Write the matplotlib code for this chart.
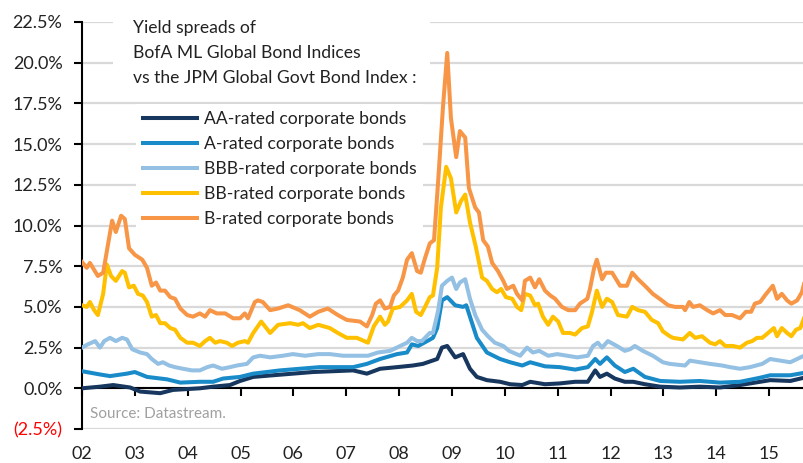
import matplotlib
matplotlib.use("Agg")
import matplotlib.pyplot as plt
from matplotlib.patches import Rectangle

plt.rcParams['font.family'] = ['Lato', 'DejaVu Sans']

# ---- data (decimal years, spread in %) ----
b_dates = [2002.00, 2002.09, 2002.15, 2002.30, 2002.40, 2002.57, 2002.64, 2002.74, 2002.81, 2002.89,
           2003.00, 2003.14, 2003.23, 2003.32, 2003.40, 2003.48, 2003.57, 2003.67, 2003.76, 2003.86,
           2003.99, 2004.10, 2004.23, 2004.33, 2004.42, 2004.55, 2004.71, 2004.86, 2004.99, 2005.08,
           2005.14, 2005.27, 2005.33, 2005.42, 2005.56, 2005.71, 2005.90, 2006.12, 2006.31, 2006.47,
           2006.65, 2006.84, 2007.01, 2007.26, 2007.39, 2007.49, 2007.56, 2007.64, 2007.73, 2007.83,
           2007.90, 2007.98, 2008.07, 2008.15, 2008.24, 2008.34, 2008.41, 2008.49, 2008.58, 2008.66,
           2008.74, 2008.83, 2008.91, 2008.98, 2009.08, 2009.15, 2009.25, 2009.32, 2009.44, 2009.51,
           2009.59, 2009.68, 2009.76, 2009.87, 2009.97, 2010.04, 2010.16, 2010.23, 2010.33, 2010.38,
           2010.48, 2010.57, 2010.65, 2010.76, 2010.86, 2010.95, 2011.08, 2011.20, 2011.33, 2011.42,
           2011.56, 2011.61, 2011.69, 2011.74, 2011.84, 2011.91, 2012.03, 2012.18, 2012.31, 2012.41,
           2012.52, 2012.65, 2012.80, 2012.97, 2013.09, 2013.22, 2013.37, 2013.41, 2013.49, 2013.56,
           2013.69, 2013.83, 2013.94, 2014.07, 2014.17, 2014.30, 2014.45, 2014.56, 2014.66, 2014.73,
           2014.83, 2014.92, 2015.02, 2015.07, 2015.15, 2015.24, 2015.34, 2015.42, 2015.53, 2015.62,
           2015.66]
b_vals = [7.75, 7.4, 7.7, 6.9, 7.1, 10.3, 9.6, 10.6, 10.4, 8.6,
          8.2, 7.9, 7.4, 6.3, 6.5, 6.0, 6.0, 5.6, 5.5, 4.9,
          4.5, 4.4, 4.6, 4.4, 4.8, 4.6, 4.6, 4.3, 4.3, 4.6,
          4.3, 5.3, 5.4, 5.3, 4.8, 4.9, 5.1, 4.8, 4.4, 4.7,
          4.9, 4.5, 4.2, 4.1, 3.8, 4.5, 5.2, 5.4, 4.9, 5.0,
          5.7, 6.0, 6.8, 7.9, 8.3, 7.2, 7.1, 8.0, 8.9, 9.1,
          12.8, 17.3, 20.6, 16.6, 14.2, 15.8, 15.4, 12.3, 11.1, 10.8,
          9.1, 8.7, 7.7, 7.2, 6.6, 6.1, 6.3, 5.8, 5.4, 6.6,
          6.8, 6.2, 6.7, 6.0, 5.7, 5.5, 5.0, 4.8, 4.8, 5.2,
          5.5, 6.1, 7.4, 7.9, 6.7, 7.1, 7.1, 6.3, 6.3, 7.1,
          6.7, 6.3, 5.8, 5.4, 5.1, 5.0, 5.0, 4.8, 5.3, 5.0,
          5.1, 4.8, 4.6, 4.8, 4.5, 4.5, 4.3, 4.7, 4.7, 5.2,
          5.3, 5.7, 6.1, 6.3, 5.5, 5.8, 5.4, 5.2, 5.4, 5.9,
          6.4]

bb_dates = [2002.00, 2002.09, 2002.15, 2002.23, 2002.30, 2002.40, 2002.47, 2002.55, 2002.64, 2002.76,
            2002.81, 2002.89, 2002.98, 2003.06, 2003.15, 2003.23, 2003.32, 2003.40, 2003.48, 2003.57,
            2003.67, 2003.76, 2003.86, 2003.99, 2004.10, 2004.23, 2004.33, 2004.42, 2004.52, 2004.61,
            2004.74, 2004.84, 2004.95, 2005.08, 2005.14, 2005.24, 2005.39, 2005.56, 2005.71, 2005.94,
            2006.09, 2006.18, 2006.31, 2006.47, 2006.69, 2006.84, 2007.01, 2007.20, 2007.41, 2007.52,
            2007.64, 2007.73, 2007.79, 2007.88, 2008.02, 2008.15, 2008.24, 2008.32, 2008.41, 2008.49,
            2008.58, 2008.64, 2008.72, 2008.79, 2008.89, 2008.98, 2009.08, 2009.17, 2009.25, 2009.34,
            2009.45, 2009.57, 2009.66, 2009.76, 2009.85, 2009.93, 2010.02, 2010.14, 2010.23, 2010.31,
            2010.38, 2010.48, 2010.57, 2010.63, 2010.72, 2010.82, 2010.91, 2011.01, 2011.10, 2011.23,
            2011.33, 2011.46, 2011.57, 2011.65, 2011.74, 2011.84, 2011.93, 2012.03, 2012.14, 2012.31,
            2012.41, 2012.52, 2012.65, 2012.78, 2012.90, 2012.99, 2013.12, 2013.18, 2013.37, 2013.50,
            2013.60, 2013.73, 2013.88, 2013.98, 2014.07, 2014.17, 2014.32, 2014.45, 2014.58, 2014.68,
            2014.77, 2014.87, 2014.98, 2015.09, 2015.15, 2015.24, 2015.34, 2015.42, 2015.51, 2015.59,
            2015.66]
bb_vals = [5.1, 5.0, 5.3, 4.8, 4.5, 5.8, 7.6, 6.9, 6.6, 7.2,
           7.1, 6.2, 6.3, 5.8, 5.7, 5.3, 4.4, 4.5, 4.0, 4.0,
           3.7, 3.6, 3.1, 2.8, 2.8, 2.6, 2.9, 3.1, 2.8, 2.9,
           2.8, 2.6, 2.8, 2.9, 2.8, 3.4, 4.1, 3.4, 3.9, 4.0,
           3.9, 4.0, 3.7, 3.9, 3.7, 3.4, 3.1, 3.1, 2.8, 3.8,
           4.4, 3.9, 4.1, 4.9, 5.0, 5.4, 5.8, 4.7, 4.5, 5.0,
           5.6, 5.7, 7.4, 11.1, 13.6, 12.9, 10.8, 11.5, 11.9, 10.2,
           8.7, 6.8, 6.6, 6.1, 5.9, 6.1, 5.6, 5.5, 5.0, 4.8,
           5.8, 5.7, 5.1, 5.2, 4.4, 3.9, 4.4, 4.1, 3.4, 3.4,
           3.3, 3.7, 3.8, 4.7, 6.0, 5.0, 5.5, 5.3, 4.5, 4.4,
           5.0, 4.8, 4.7, 4.2, 4.0, 3.5, 3.2, 3.1, 3.0, 3.4,
           3.1, 3.2, 2.8, 2.7, 2.9, 2.6, 2.6, 2.5, 2.8, 2.9,
           3.1, 3.1, 3.4, 3.7, 3.2, 3.7, 3.4, 3.2, 3.6, 3.7,
           4.3]

bbb_dates = [2002.00, 2002.11, 2002.25, 2002.34, 2002.42, 2002.53, 2002.64, 2002.76, 2002.85, 2002.95,
             2003.10, 2003.23, 2003.32, 2003.44, 2003.53, 2003.65, 2003.76, 2003.91, 2004.08, 2004.23,
             2004.37, 2004.48, 2004.65, 2004.80, 2004.93, 2005.12, 2005.24, 2005.37, 2005.56, 2005.80,
             2005.99, 2006.22, 2006.47, 2006.69, 2006.94, 2007.20, 2007.41, 2007.60, 2007.83, 2008.02,
             2008.15, 2008.24, 2008.34, 2008.43, 2008.58, 2008.64, 2008.74, 2008.81, 2008.91, 2009.00,
             2009.08, 2009.15, 2009.25, 2009.34, 2009.44, 2009.57, 2009.68, 2009.81, 2009.97, 2010.08,
             2010.29, 2010.42, 2010.53, 2010.65, 2010.82, 2010.99, 2011.18, 2011.37, 2011.57, 2011.67,
             2011.76, 2011.84, 2011.95, 2012.12, 2012.27, 2012.37, 2012.46, 2012.61, 2012.80, 2012.99,
             2013.12, 2013.41, 2013.50, 2013.69, 2013.88, 2014.11, 2014.26, 2014.45, 2014.64, 2014.87,
             2015.02, 2015.21, 2015.40, 2015.53, 2015.66]
bbb_vals = [2.5, 2.7, 2.9, 2.5, 2.9, 3.1, 2.9, 3.1, 3.0, 2.4,
            2.2, 2.1, 1.8, 1.5, 1.6, 1.4, 1.3, 1.2, 1.1, 1.1,
            1.3, 1.4, 1.2, 1.3, 1.4, 1.5, 1.9, 2.0, 1.9, 2.0,
            2.1, 2.0, 2.1, 2.1, 2.0, 2.0, 2.0, 2.2, 2.3, 2.6,
            2.8, 3.1, 2.9, 2.9, 3.4, 3.4, 4.8, 6.3, 6.6, 6.8,
            6.1, 6.5, 6.7, 5.5, 4.5, 3.6, 3.2, 2.8, 2.6, 2.3,
            2.0, 2.5, 2.2, 2.3, 2.0, 2.1, 2.0, 1.9, 2.0, 2.6,
            2.8, 2.5, 2.9, 2.6, 2.3, 2.4, 2.6, 2.3, 2.0, 1.6,
            1.5, 1.4, 1.7, 1.6, 1.5, 1.4, 1.3, 1.2, 1.3, 1.5,
            1.8, 1.7, 1.6, 1.8, 2.0]

a_dates = [2002.00, 2002.34, 2002.53, 2002.85, 2003.00, 2003.23, 2003.61, 2003.86, 2004.23, 2004.48,
           2004.67, 2004.99, 2005.24, 2005.75, 2006.12, 2006.50, 2006.88, 2007.13, 2007.39, 2007.64,
           2007.96, 2008.15, 2008.24, 2008.36, 2008.53, 2008.64, 2008.72, 2008.81, 2008.91, 2009.06,
           2009.21, 2009.27, 2009.34, 2009.47, 2009.66, 2009.91, 2010.10, 2010.33, 2010.48, 2010.76,
           2011.04, 2011.33, 2011.57, 2011.71, 2011.80, 2011.93, 2012.08, 2012.27, 2012.43, 2012.65,
           2012.94, 2013.31, 2013.69, 2014.07, 2014.45, 2014.83, 2015.02, 2015.40, 2015.66]
a_vals = [1.05, 0.85, 0.75, 0.9, 1.0, 0.7, 0.55, 0.35, 0.4, 0.4,
          0.6, 0.7, 0.9, 1.1, 1.2, 1.3, 1.3, 1.3, 1.5, 1.8,
          2.1, 2.2, 2.7, 2.6, 2.9, 3.1, 3.7, 5.4, 5.6, 5.1,
          5.0, 5.1, 4.4, 3.1, 2.2, 1.8, 1.6, 1.4, 1.6, 1.35,
          1.3, 1.15, 1.3, 1.8, 1.5, 1.9, 1.4, 1.0, 1.2, 0.7,
          0.45, 0.4, 0.45, 0.35, 0.4, 0.65, 0.8, 0.8, 0.95]

aa_dates = [2002.00, 2002.34, 2002.59, 2002.91, 2003.10, 2003.48, 2003.72, 2004.23, 2004.48, 2004.80,
            2004.99, 2005.24, 2005.61, 2005.99, 2006.37, 2006.75, 2007.13, 2007.39, 2007.64, 2007.96,
            2008.26, 2008.45, 2008.72, 2008.81, 2008.91, 2009.06, 2009.21, 2009.34, 2009.47, 2009.66,
            2009.91, 2010.10, 2010.33, 2010.48, 2010.76, 2011.04, 2011.33, 2011.57, 2011.71, 2011.80,
            2011.93, 2012.08, 2012.27, 2012.43, 2012.65, 2012.94, 2013.31, 2013.69, 2014.07, 2014.45,
            2014.83, 2015.02, 2015.40, 2015.66]
aa_vals = [0.0, 0.1, 0.2, 0.05, -0.2, -0.3, -0.1, 0.0, 0.1, 0.2,
           0.45, 0.7, 0.8, 0.9, 1.0, 1.05, 1.1, 0.9, 1.2, 1.3,
           1.4, 1.5, 1.8, 2.5, 2.6, 1.9, 2.1, 1.2, 0.7, 0.5,
           0.4, 0.25, 0.2, 0.4, 0.25, 0.3, 0.4, 0.4, 1.1, 0.7,
           0.9, 0.6, 0.4, 0.4, 0.25, 0.1, 0.05, 0.1, 0.05, 0.2,
           0.4, 0.5, 0.45, 0.65]

series_labels = ["AA-rated corporate bonds", "A-rated corporate bonds", "BBB-rated corporate bonds",
                 "BB-rated corporate bonds", "B-rated corporate bonds"]
series_colors = ["#17375e", "#1a8bc9", "#93c0e3", "#ffc000", "#f79646"]

year_ticks = list(range(2002, 2016))
year_labels = ["02", "03", "04", "05", "06", "07", "08", "09", "10", "11", "12", "13", "14", "15"]
y_ticks = [-2.5, 0.0, 2.5, 5.0, 7.5, 10.0, 12.5, 15.0, 17.5, 20.0, 22.5]

title_text = "Yield spreads of\nBofA ML Global Bond Indices\nvs the JPM Global Govt Bond Index :"
source_text = "Source: Datastream."

# ---- figure ----
W, H = 804, 463
fig = plt.figure(figsize=(W / 100, H / 100), dpi=100)
ax = fig.add_axes([82 / W, 1 - 429 / H, (W - 82) / W, (429 - 22) / H])

ax.set_xlim(2002, 2015.66)
ax.set_ylim(-2.5, 22.5)

for d, v, lab, col in zip([aa_dates, a_dates, bbb_dates, bb_dates, b_dates],
                          [aa_vals, a_vals, bbb_vals, bb_vals, b_vals],
                          series_labels, series_colors):
    ax.plot(d, v, color=col, lw=2.9, label=lab, zorder=3, solid_joinstyle='round')

# grid
ax.set_yticks(y_ticks)
ax.yaxis.grid(True, color="#d9d9d9", lw=1.6)
ax.set_axisbelow(True)

def fmt(v):
    return f"({abs(v):.1f}%)" if v < 0 else f"{v:.1f}%"

ax.set_yticklabels([fmt(v) for v in y_ticks])
for t, v in zip(ax.get_yticklabels(), y_ticks):
    if v < 0:
        t.set_color("#ff0000")
    else:
        t.set_color("#222222")
ax.tick_params(axis='y', direction='out', length=6, width=1.5, pad=8, labelsize=13)

# spines
for s in ['top', 'right']:
    ax.spines[s].set_visible(False)
ax.spines['left'].set_linewidth(1.5)
ax.spines['bottom'].set_position(('data', 0))
ax.spines['bottom'].set_linewidth(1.5)
ax.spines['bottom'].set_zorder(2.5)
ax.set_xticks(year_ticks)
ax.tick_params(axis='x', direction='out', length=6, width=1.5, labelbottom=False)

sec = ax.secondary_xaxis('bottom')
sec.set_xticks(year_ticks)
sec.set_xticklabels(year_labels)
sec.tick_params(axis='x', length=0, pad=12, labelsize=13, labelcolor="#222222")
sec.spines['bottom'].set_visible(False)

# white boxes for title and legend
ax.add_patch(Rectangle((113 / W, 1 - 101 / H), (430 - 113) / W, (101 - 15) / H,
                       transform=fig.transFigure, facecolor='white', edgecolor='none',
                       zorder=2.6, clip_on=False))
fig.text(133 / W, 1 - 20 / H, title_text, ha='left', va='top', fontsize=12.6,
         color="#222222", linespacing=1.68, zorder=5)

leg = ax.legend(loc='upper left', bbox_to_anchor=(136 / W, 1 - 104 / H),
                bbox_transform=fig.transFigure, frameon=True, fancybox=False,
                facecolor='white', edgecolor='none', framealpha=1, fontsize=12.6,
                handlelength=3.1, handletextpad=0.4, labelspacing=0.52,
                borderpad=0.38, borderaxespad=0)
for t in leg.get_texts():
    t.set_color("#222222")
leg.set_zorder(6)

ax.text(2002.15, -1.6, source_text, fontsize=11, color="#a0a0a0", ha='left', va='center')

fig.savefig("out.png", dpi=100)
